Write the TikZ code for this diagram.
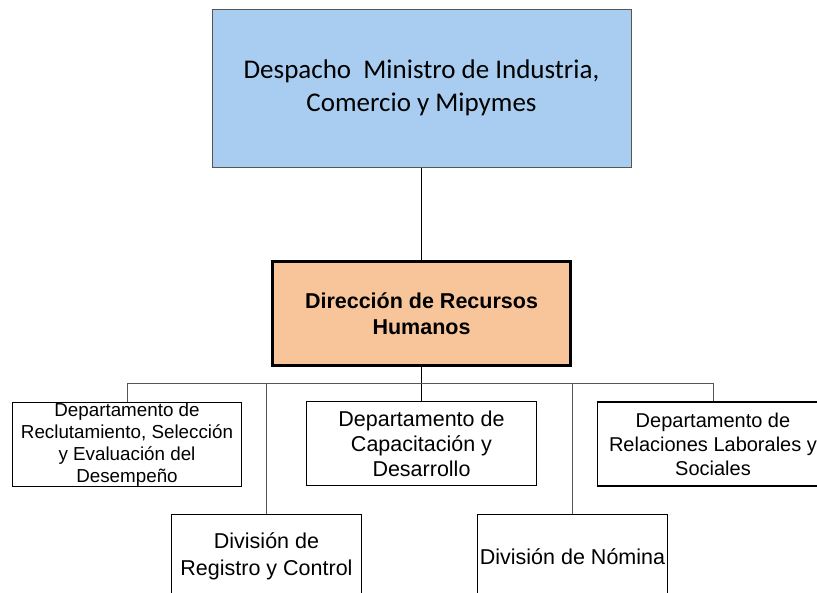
\documentclass[tikz,border=0pt]{standalone}
\usepackage{fontspec}
\setmainfont{Liberation Sans}
\newfontfamily\carlito{Carlito}
\usepackage{xcolor}
\usepackage{tikz}
\definecolor{deskblue}{HTML}{A9CDF0}
\definecolor{hrorange}{HTML}{F8C59A}
\definecolor{linkgray}{HTML}{555555}

\begin{document}
\begin{tikzpicture}[x=1pt,y=-1pt,unit/.style={draw,line width=1.3pt,align=center,inner sep=0pt,minimum width=#1,minimum height=84pt},link/.style={draw=black,line width=1.4pt},buslink/.style={draw=linkgray,line width=0.9pt}]
\useasboundingbox (0,0) rectangle (817,592);
\node[draw=linkgray,line width=1pt,fill=deskblue,align=center,inner sep=0pt,minimum width=419pt,minimum height=158pt,font=\carlito\fontsize{27}{33}\selectfont] (desp) at (421.5,88) {Despacho\ \ Ministro de Industria,\\Comercio y Mipymes};
\node[draw,line width=3pt,fill=hrorange,align=center,inner sep=0pt,minimum width=298pt,minimum height=104pt,font=\bfseries\fontsize{21.5}{26}\selectfont] (dir) at (421.5,313.5) {Dirección de Recursos\\Humanos};
\node[unit=229pt,font=\fontsize{18.8}{22}\selectfont] (reclut) at (127,444.5) {Departamento de\\Reclutamiento, Selección\\y Evaluación del\\Desempeño};
\node[unit=230pt,font=\fontsize{21.5}{25}\selectfont] (capac) at (421.5,443.5) {Departamento de\\Capacitación y\\Desarrollo};
\node[unit=231pt,font=\fontsize{20}{24}\selectfont] (relac) at (713,444) {Departamento de\\Relaciones Laborales y\\Sociales};
\node[unit=190pt,font=\fontsize{21.5}{27}\selectfont] (registro) at (266.5,556.5) {División de\\Registro y Control};
\node[unit=190pt,font=\fontsize{21.5}{27}\selectfont] (nomina) at (572.5,556.5) {División de Nómina};
\coordinate (bus) at (421.5,383);
\draw[link] (desp) -- (dir);\draw[link] (dir) -- (capac);
\draw[buslink] (reclut.north) -- (reclut.north |- bus) -- (relac.north |- bus) -- (relac.north);
\draw[buslink] (registro.north) -- (registro.north |- bus);\draw[buslink] (nomina.north) -- (nomina.north |- bus);
\end{tikzpicture}
\end{document}
